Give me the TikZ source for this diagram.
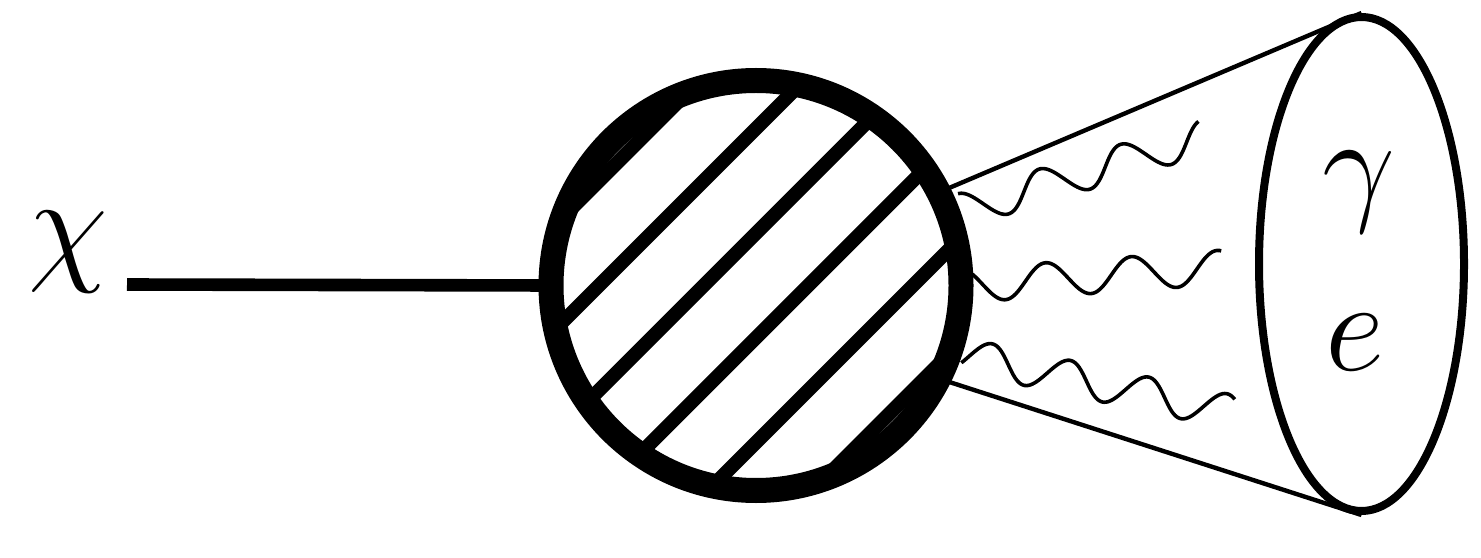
\documentclass[tikz,border=0pt]{standalone}
\usetikzlibrary{shapes.geometric}

\begin{document}
\begin{tikzpicture}[x=0.5pt, y=0.5pt,
  lbl/.style={font=\Huge, scale=2.61, transform shape, inner sep=0pt, anchor=base},
  photon/.style={line width=1.8pt},
  hatch/.style={line width=7pt},
  conical/.style={line width=2.2pt}]
  \useasboundingbox (0,0) rectangle (1481,557);
  % Incoming particle
  \node[lbl] (chi) at (68,289) {$\chi$};
  \coordinate (lstart) at (127,272.5);
  % Blob and final state
  \node[circle, minimum size=205pt, inner sep=0pt, outer sep=0pt] (blob) at (756,271.5) {};
  \node[ellipse, draw, line width=4pt, minimum width=102.5pt, minimum height=247pt, inner sep=0pt] (cone) at (1361.5,293) {};
  \draw[line width=6.3pt] (lstart) -- (blob.west);
  % Cone
  \draw[conical] (blob.27) -- (cone.north);
  \draw[conical] (blob.-27) -- (cone.south);
  % Photons: start, angle, length, period, phase
  \coordinate (w1a) at (963,347);
  \coordinate (w2a) at (973,272);
  \coordinate (w3a) at (963,202);
  \foreach \p/\ang/\len/\per/\ph in {w1a/16.9/251/85/90, w2a/4.1/250/86/140, w3a/-12/275/80/-28}
    \draw[photon, shift={(\p)}, rotate=\ang]
      plot[domain=0:\len, samples=150, smooth] (\x, {17*sin((360/\per)*\x + \ph)});
  % Hatching
  \begin{scope}
    \clip (blob.center) circle[radius=102.5pt];
    \begin{scope}[shift={(blob.center)}, rotate=45]
      \foreach \d in {-185,-111,-37,37,111,185}
        \draw[hatch] (-260,\d) -- (260,\d);
    \end{scope}
  \end{scope}
  \draw[line width=12.5pt] (blob.center) circle[radius=102.5pt];
  % Labels
  \node[lbl] (gam) at (1359,349) {$\gamma$};
  \node[lbl] (ele) at (1355,187) {$e$};
\end{tikzpicture}
\end{document}
